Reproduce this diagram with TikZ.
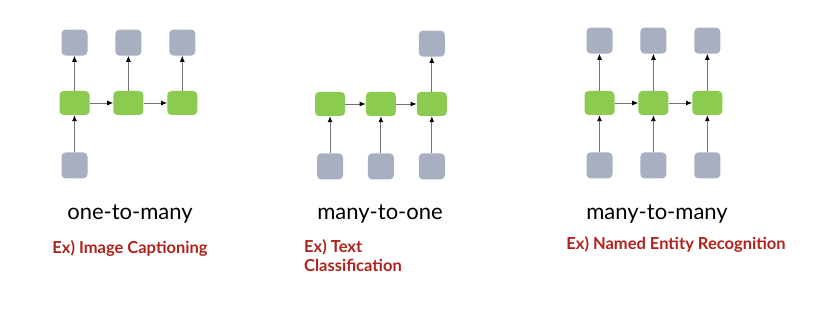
\documentclass[tikz,border=0pt]{standalone}
\usepackage{xcolor}
\usepackage{fontspec}
\setmainfont{Lato}
\usepackage{tikz}
\usetikzlibrary{arrows.meta,positioning}

\definecolor{boxgray}{RGB}{167,175,192}
\definecolor{cellgreen}{RGB}{139,204,80}
\definecolor{exred}{RGB}{176,34,28}

\begin{document}
\begin{tikzpicture}[x=1pt, y=-1pt,
    node distance=35pt and 23.5pt,
    io/.style={rectangle, rounded corners=4pt, fill=boxgray, minimum width=26pt, minimum height=26pt, inner sep=0pt},
    cell/.style={rectangle, rounded corners=4pt, fill=cellgreen, minimum width=30pt, minimum height=24pt, inner sep=0pt},
    link/.style={draw=black!55, line width=0.9pt, -{Latex[length=6pt,width=5pt,black]}},
    title/.style={font=\fontsize{22}{26}\selectfont},
    example/.style={font=\fontsize{16.5}{19}\selectfont\bfseries, text=exred, align=left}]

    \useasboundingbox (0,0) rectangle (824,312);

    % one-to-many
    \node[cell] (A1) at (74.5,103) {};
    \node[cell, right=of A1] (A2) {};
    \node[cell, right=of A2] (A3) {};
    \node[io, above=of A1] (AY1) {};
    \node[io, above=of A2] (AY2) {};
    \node[io, above=of A3] (AY3) {};
    \node[io, below=37pt of A1] (AX1) {};
    \draw[link] (AX1) -- (A1);
    \draw[link] (A1) -- (A2);
    \draw[link] (A2) -- (A3);
    \draw[link] (A1) -- (AY1);
    \draw[link] (A2) -- (AY2);
    \draw[link] (A3) -- (AY3);
    \node[title] (T1) at (130,214) {one-to-many};
    \node[example] (E1) at (130,249) {Ex) Image Captioning};

    % many-to-one
    \node[cell] (B1) at (330,104) {};
    \node[cell, right=20.5pt of B1] (B2) {};
    \node[cell, right=20.5pt of B2] (B3) {};
    \node[io, above=of B3] (BY3) {};
    \node[io, below=37pt of B1] (BX1) {};
    \node[io, below=37pt of B2] (BX2) {};
    \node[io, below=37pt of B3] (BX3) {};
    \draw[link] (BX1) -- (B1);
    \draw[link] (BX2) -- (B2);
    \draw[link] (BX3) -- (B3);
    \draw[link] (B1) -- (B2);
    \draw[link] (B2) -- (B3);
    \draw[link] (B3) -- (BY3);
    \node[title] (T2) at (380,214) {many-to-one};
    \node[example, anchor=north west, inner sep=0pt] (E2) at (304,239) {Ex) Text\\Classification};

    % many-to-many
    \node[cell] (C1) at (599.5,103) {};
    \node[cell, right=of C1] (C2) {};
    \node[cell, right=of C2] (C3) {};
    \node[io, above=37pt of C1] (CY1) {};
    \node[io, above=37pt of C2] (CY2) {};
    \node[io, above=37pt of C3] (CY3) {};
    \node[io, below=37pt of C1] (CX1) {};
    \node[io, below=37pt of C2] (CX2) {};
    \node[io, below=37pt of C3] (CX3) {};
    \draw[link] (CX1) -- (C1);
    \draw[link] (CX2) -- (C2);
    \draw[link] (CX3) -- (C3);
    \draw[link] (C1) -- (C2);
    \draw[link] (C2) -- (C3);
    \draw[link] (C1) -- (CY1);
    \draw[link] (C2) -- (CY2);
    \draw[link] (C3) -- (CY3);
    \node[title] (T3) at (657,214) {many-to-many};
    \node[example] (E3) at (676,245) {Ex) Named Entity Recognition};
\end{tikzpicture}
\end{document}
